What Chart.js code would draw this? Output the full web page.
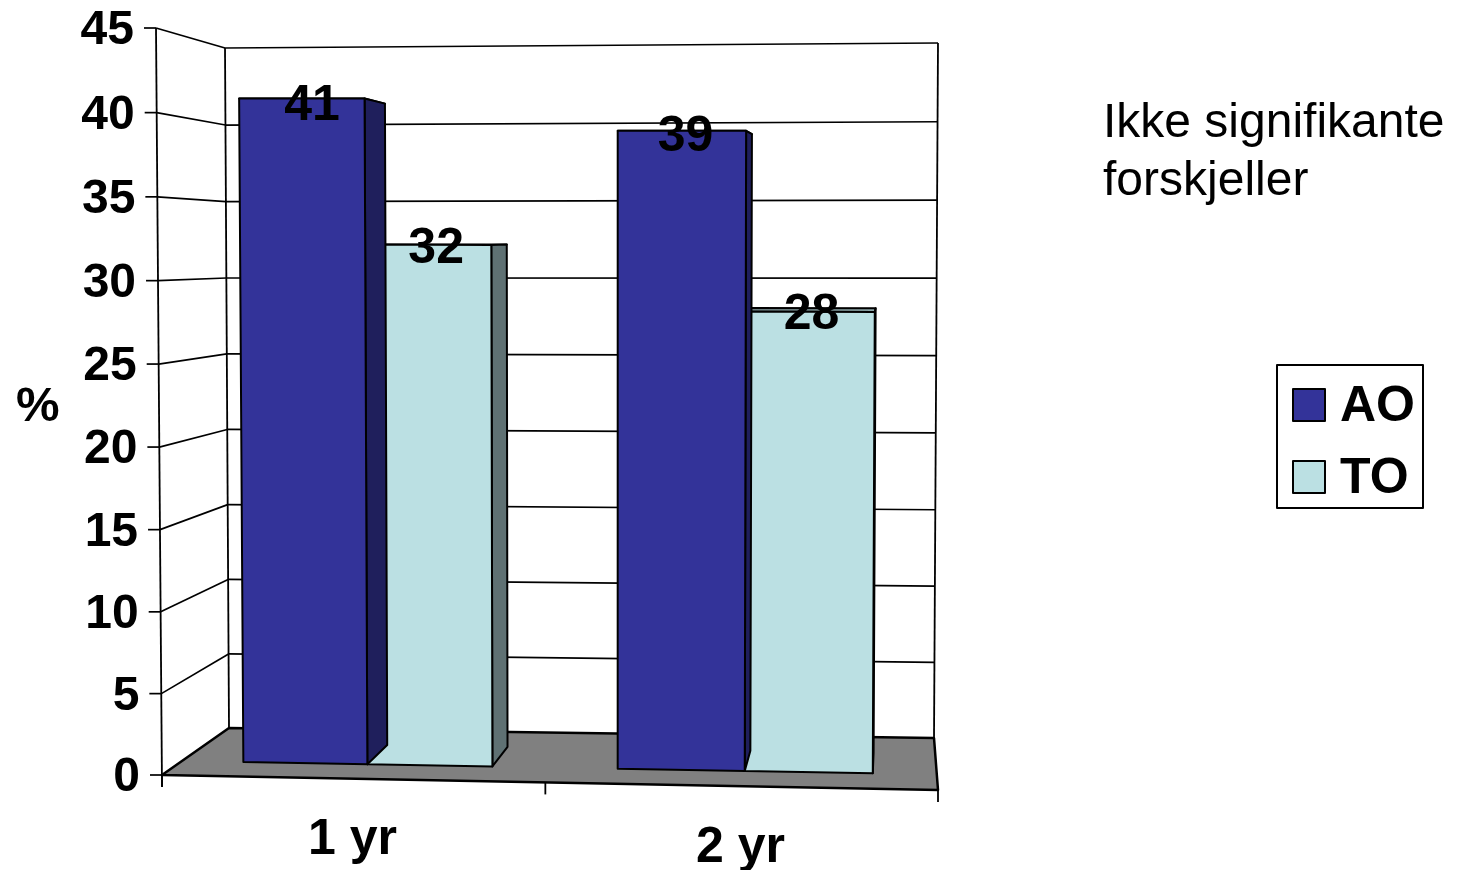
<!DOCTYPE html>
<html>
<head>
<meta charset="utf-8">
<title>AO / TO</title>
<script src="https://cdn.jsdelivr.net/npm/chart.js@4"></script>
<style>
  html, body { margin: 0; background: #fff; }
  canvas { display: block; }
</style>
</head>
<body>
<canvas id="chart" width="1457" height="870"></canvas>
<script>
const categories = ["1 yr", "2 yr"];
const aoValues = [41, 39];
const toValues = [32, 28];
const noteLines = ["Ikke signifikante", "forskjeller"];
const unitLabel = "%";

const FONT = '"Liberation Sans", Arial, sans-serif';
const AO_COLOR = "#333399";
const AO_SIDE = "#1f1f5c";
const AO_TOP = "#2a2a80";
const TO_COLOR = "#bbe0e3";
const TO_SIDE = "#5f7173";
const TO_TOP = "#8ca6a8";

// corners of the 3d box: [bottom/top][left/right] for front and back planes
const BOX = {
  front: { bl: [162, 775], br: [938, 790], tl: [156, 28], tr: [942, 27] },
  back: { bl: [229, 728], br: [934, 738], tl: [225, 48], tr: [938, 43] },
};
const BAR_DEPTH = [0.3, 0.7];
const LABEL_DEPTH = 0.48;
const PERSPECTIVE = 0.024;
const GRID_SAG = 0.022;

function lerp(a, b, t) {
  return a + (b - a) * t;
}

// maps a flat chart pixel plus a depth (0 front, 1 back) into the box
function project(chart, px, py, depth) {
  const area = chart.chartArea;
  const raw = (px - area.left) / (area.right - area.left);
  const t = raw - PERSPECTIVE * raw * (1 - raw);
  const f = (area.bottom - py) / (area.bottom - area.top);
  const onPlane = (p, i) =>
    lerp(lerp(p.bl[i], p.br[i], t), lerp(p.tl[i], p.tr[i], t), f);
  return [
    lerp(onPlane(BOX.front, 0), onPlane(BOX.back, 0), depth),
    lerp(onPlane(BOX.front, 1), onPlane(BOX.back, 1), depth),
  ];
}

// wall gridlines bunch up slightly towards the top
function wallY(chart, value) {
  const area = chart.chartArea;
  const y = chart.scales.y.getPixelForValue(value);
  const f = (area.bottom - y) / (area.bottom - area.top);
  return y + GRID_SAG * f * (1 - f) * (area.bottom - area.top);
}

function poly(ctx, pts, fill, stroke, width) {
  ctx.beginPath();
  pts.forEach((p, i) => (i ? ctx.lineTo(p[0], p[1]) : ctx.moveTo(p[0], p[1])));
  ctx.closePath();
  ctx.lineJoin = "round";
  if (fill) {
    ctx.fillStyle = fill;
    ctx.fill();
  }
  if (stroke) {
    ctx.strokeStyle = stroke;
    ctx.lineWidth = width || 2;
    ctx.stroke();
  }
}

function line(ctx, a, b, width) {
  ctx.beginPath();
  ctx.moveTo(a[0], a[1]);
  ctx.lineTo(b[0], b[1]);
  ctx.strokeStyle = "#000";
  ctx.lineWidth = width || 1.7;
  ctx.stroke();
}

const box3d = {
  id: "box3d",
  // floor, walls, gridlines and axis ticks
  beforeDraw(chart) {
    const { ctx, chartArea: area, scales } = chart;
    const P = (x, y, d) => project(chart, x, y, d);

    poly(ctx, [P(area.left, area.bottom, 0), P(area.right, area.bottom, 0),
      P(area.right, area.bottom, 1), P(area.left, area.bottom, 1)], "#808080", "#000", 2.5);

    scales.y.ticks.forEach((tick) => {
      const y = wallY(chart, tick.value);
      const front = P(area.left, y, 0);
      line(ctx, [front[0] - 12, front[1]], front);
      if (tick.value > 0) {
        line(ctx, front, P(area.left, y, 1));
        line(ctx, P(area.left, y, 1), P(area.right, y, 1));
      }
    });

    // upright edges
    const foot = P(area.left, area.bottom, 0);
    line(ctx, P(area.left, area.top, 0), [foot[0], foot[1] + 12], 1.8);
    line(ctx, P(area.left, area.top, 1), P(area.left, area.bottom, 1), 1.8);
    line(ctx, P(area.right, area.top, 1), P(area.right, area.bottom, 1), 1.8);

    // ticks under the floor, one at each category boundary
    const cats = categories.length;
    for (let i = 0; i <= cats; i++) {
      const p = P(lerp(area.left, area.right, i / cats), area.bottom, 0);
      line(ctx, p, [p[0], p[1] + 12], 1.8);
    }
  },

  // bars as boxes, second series first so the first one's side stays on top
  beforeDatasetsDraw(chart) {
    const { ctx } = chart;
    [1, 0].forEach((ds) => {
      const isAo = ds === 0;
      chart.getDatasetMeta(ds).data.forEach((bar) => {
        const x0 = bar.x - bar.width / 2;
        const x1 = bar.x + bar.width / 2;
        const [dA, dB] = BAR_DEPTH;
        const P = (x, y, d) => project(chart, x, y, d);
        poly(ctx, [P(x0, bar.y, dA), P(x1, bar.y, dA), P(x1, bar.y, dB), P(x0, bar.y, dB)],
          isAo ? AO_TOP : TO_TOP, "#000");
        poly(ctx, [P(x1, bar.y, dA), P(x1, bar.y, dB), P(x1, bar.base, dB), P(x1, bar.base, dA)],
          isAo ? AO_SIDE : TO_SIDE, "#000");
        poly(ctx, [P(x0, bar.y, dA), P(x1, bar.y, dA), P(x1, bar.base, dA), P(x0, bar.base, dA)],
          isAo ? AO_COLOR : TO_COLOR, "#000");
      });
    });
    return false;
  },

  afterDraw(chart) {
    const { ctx, chartArea: area, scales } = chart;
    const P = (x, y, d) => project(chart, x, y, d);
    ctx.save();
    ctx.fillStyle = "#000";
    ctx.textBaseline = "middle";

    // value axis labels
    ctx.font = `bold 48px ${FONT}`;
    ctx.textAlign = "right";
    scales.y.ticks.forEach((tick) => {
      const p = P(area.left, wallY(chart, tick.value), 0);
      ctx.fillText(String(tick.value), p[0] - 22, p[1] + 3);
    });

    ctx.font = `bold 49px ${FONT}`;
    ctx.textAlign = "left";
    ctx.fillText(unitLabel, 16, 407);

    // category labels
    ctx.font = `bold 50px ${FONT}`;
    ctx.textAlign = "center";
    categories.forEach((label, i) => {
      const p = P(scales.x.getPixelForValue(i), area.bottom, 0);
      ctx.fillText(label, p[0], p[1] + 62);
    });

    // value labels around the top of each bar
    [0, 1].forEach((ds) => {
      chart.getDatasetMeta(ds).data.forEach((bar, i) => {
        const p = P(bar.x, bar.y, LABEL_DEPTH);
        ctx.fillText(String(chart.data.datasets[ds].data[i]), p[0], p[1] + 5);
      });
    });

    // side note
    ctx.textAlign = "left";
    ctx.font = `48px ${FONT}`;
    noteLines.forEach((text, i) => ctx.fillText(text, 1103, 124 + i * 58));

    // legend
    ctx.strokeStyle = "#000";
    ctx.lineWidth = 2;
    ctx.strokeRect(1277, 365, 146, 143);
    ctx.font = `bold 50px ${FONT}`;
    chart.data.datasets.forEach((set, i) => {
      const y = 389 + i * 72;
      ctx.fillStyle = set.backgroundColor;
      ctx.fillRect(1293, y, 32, 32);
      ctx.strokeRect(1293, y, 32, 32);
      ctx.fillStyle = "#000";
      ctx.fillText(set.label, 1340, y + 18);
    });
    ctx.restore();
  },
};

new Chart(document.getElementById("chart"), {
  type: "bar",
  data: {
    labels: categories,
    datasets: [
      { label: "AO", data: aoValues, backgroundColor: AO_COLOR },
      { label: "TO", data: toValues, backgroundColor: TO_COLOR },
    ],
  },
  options: {
    responsive: false,
    animation: false,
    layout: { padding: { left: 162, right: 519, top: 28, bottom: 95 } },
    datasets: { bar: { categoryPercentage: 0.668, barPercentage: 1 } },
    plugins: { legend: { display: false }, tooltip: { enabled: false } },
    scales: {
      x: { display: false },
      y: { display: false, min: 0, max: 45, ticks: { stepSize: 5 } },
    },
  },
  plugins: [box3d],
});
</script>
</body>
</html>
